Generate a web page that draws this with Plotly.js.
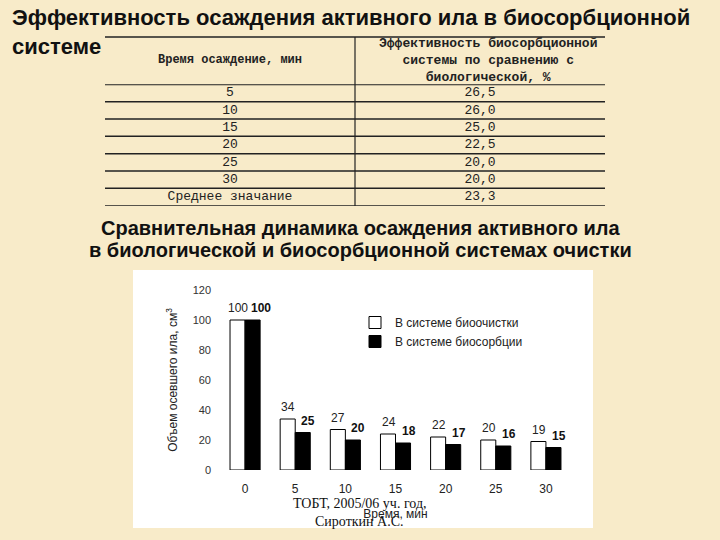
<!DOCTYPE html>
<html>
<head>
<meta charset="utf-8">
<script src="https://cdn.plot.ly/plotly-3.0.1.min.js"></script>
<style>
  html, body { margin: 0; padding: 0; background: #f8ebc9; }
  #chart { width: 720px; height: 540px; }
</style>
</head>
<body>
<div id="chart"></div>
<script>
// ---- data ----
const categories = ['0', '5', '10', '15', '20', '25', '30'];
const bioValues = [100, 34, 27, 24, 22, 20, 19];
const biosorbValues = [100, 25, 20, 18, 17, 16, 15];
const yTicks = [0, 20, 40, 60, 80, 100, 120];
const tableTimes = ['5', '10', '15', '20', '25', '30', 'Среднее значание'];
const tableEff = ['26,5', '26,0', '25,0', '22,5', '20,0', '20,0', '23,3'];
const tableColumns = ['time', 'eff'];

// ---- helpers (pixel -> paper) ----
const W = 720, H = 540;
const px = v => v / W;
const py = v => 1 - v / H;

const sans = 'Liberation Sans, Arial, sans-serif';
const serif = 'Liberation Serif, Times New Roman, serif';
const mono = 'Liberation Mono, monospace';

const traces = [
  {
    type: 'bar', name: 'В системе биоочистки',
    x: categories, y: bioValues,
    marker: { color: '#ffffff', line: { color: '#000000', width: 1 } },
    xaxis: 'x', yaxis: 'y', hoverinfo: 'skip'
  },
  {
    type: 'bar', name: 'В системе биосорбции',
    x: categories, y: biosorbValues,
    marker: { color: '#000000', line: { color: '#000000', width: 1 } },
    xaxis: 'x', yaxis: 'y', hoverinfo: 'skip'
  },
  {
    type: 'scatter', mode: 'text', showlegend: false,
    x: tableTimes.map(() => tableColumns[0]), y: tableTimes, text: tableTimes,
    textfont: { family: mono, size: 13, color: '#222' },
    xaxis: 'x2', yaxis: 'y2', hoverinfo: 'skip'
  },
  {
    type: 'scatter', mode: 'text', showlegend: false,
    x: tableTimes.map(() => tableColumns[1]), y: tableTimes, text: tableEff,
    textfont: { family: mono, size: 13, color: '#222' },
    xaxis: 'x2', yaxis: 'y2', hoverinfo: 'skip'
  }
];

const annotations = [];
// value labels from data (x given as category index)
categories.forEach((c, i) => {
  annotations.push({
    x: i, y: bioValues[i], xref: 'x', yref: 'y',
    text: String(bioValues[i]), showarrow: false,
    xanchor: 'center', yanchor: 'middle', xshift: -7, yshift: 12,
    font: { family: sans, size: 12, color: '#222' }
  });
  annotations.push({
    x: i, y: biosorbValues[i], xref: 'x', yref: 'y',
    text: '<b>' + biosorbValues[i] + '</b>', showarrow: false,
    xanchor: 'left', yanchor: 'middle', xshift: 4, yshift: 12,
    font: { family: sans, size: 12, color: '#111' }
  });
});

// slide texts
annotations.push({
  xref: 'paper', yref: 'paper', x: px(360), y: py(228),
  text: '<b>Сравнительная динамика осаждения активного ила</b>',
  showarrow: false, xanchor: 'center', yanchor: 'middle',
  font: { family: sans, size: 20, color: '#111' }
});
annotations.push({
  xref: 'paper', yref: 'paper', x: px(360), y: py(250),
  text: '<b>в биологической и биосорбционной системах очистки</b>',
  showarrow: false, xanchor: 'center', yanchor: 'middle',
  font: { family: sans, size: 20, color: '#111' }
});
annotations.push({
  xref: 'paper', yref: 'paper', x: px(360), y: py(503),
  text: 'ТОБТ, 2005/06 уч. год,', showarrow: false,
  xanchor: 'center', yanchor: 'middle',
  font: { family: serif, size: 14, color: '#111' }
});
annotations.push({
  xref: 'paper', yref: 'paper', x: px(359), y: py(521),
  text: 'Сироткин А.С.', showarrow: false,
  xanchor: 'center', yanchor: 'middle',
  font: { family: serif, size: 14, color: '#111' }
});
// table header
annotations.push({
  xref: 'paper', yref: 'paper', x: px(230), y: py(60),
  text: '<b>Время осаждение, мин</b>', showarrow: false,
  xanchor: 'center', yanchor: 'middle',
  font: { family: mono, size: 12, color: '#222' }
});
annotations.push({
  xref: 'paper', yref: 'paper', x: px(488), y: py(61),
  text: '<b>Эффективность биосорбционной<br>системы по сравнению с<br>биологической, %</b>',
  showarrow: false, xanchor: 'center', yanchor: 'middle', align: 'center',
  font: { family: mono, size: 13, color: '#222' }
});

const shapes = [
  // white chart panel
  { type: 'rect', xref: 'paper', yref: 'paper', layer: 'below',
    x0: px(133), x1: px(593), y0: py(528), y1: py(270),
    fillcolor: '#ffffff', line: { width: 0 } },
  // table top line
  { type: 'line', xref: 'paper', yref: 'paper', x0: px(105), x1: px(605), y0: py(37), y1: py(37),
    line: { color: '#222', width: 1.5 } },
  // vertical divider
  { type: 'line', xref: 'paper', yref: 'paper', x0: px(355), x1: px(355), y0: py(37), y1: py(206),
    line: { color: '#222', width: 1.2 } }
];
// horizontal row lines on the table axis
for (let k = 0; k <= tableTimes.length; k++) {
  shapes.push({
    type: 'line', xref: 'paper', yref: 'y2', x0: px(105), x1: px(605), y0: k - 0.5, y1: k - 0.5,
    line: { color: '#222', width: k === 0 ? 2 : 1.5 }
  });
}

const layout = {
  width: W, height: H,
  margin: { l: 0, r: 0, t: 0, b: 0, pad: 0 },
  paper_bgcolor: '#f8ebc9', plot_bgcolor: 'rgba(0,0,0,0)',
  font: { family: sans, color: '#222' },
  title: {
    text: '<b>Эффективность осаждения активного ила в биосорбционной<br>системе</b>',
    x: px(12), xref: 'paper', xanchor: 'left',
    y: 1 - 25 / H, yref: 'container', yanchor: 'middle',
    font: { family: sans, size: 22, color: '#111' }
  },
  barmode: 'group', bargap: 0.4, bargroupgap: 0,
  showlegend: true,
  legend: {
    x: px(355), y: py(308), xanchor: 'left', yanchor: 'top',
    bgcolor: 'rgba(0,0,0,0)', borderwidth: 0,
    font: { family: sans, size: 12, color: '#222' },
    itemwidth: 30, tracegroupgap: 0
  },
  xaxis: {
    domain: [px(220), px(571)], anchor: 'y',
    type: 'category', categoryorder: 'array', categoryarray: categories,
    range: [-0.5, categories.length - 0.5], autorange: false,
    showline: false, showgrid: false, zeroline: false, ticks: '',
    ticklabelstandoff: 10,
    tickfont: { family: sans, size: 12, color: '#222' },
    title: { text: 'Время, мин', font: { family: sans, size: 12, color: '#222' }, standoff: 14 },
    automargin: false, fixedrange: true
  },
  yaxis: {
    domain: [py(470), py(290)], anchor: 'x',
    range: [0, 120], autorange: false, tickvals: yTicks,
    showline: false, showgrid: false, zeroline: false, ticks: '',
    ticklabelstandoff: 8,
    tickfont: { family: sans, size: 11, color: '#333' },
    title: { text: 'Объем осевшего ила, см<sup>3</sup>', font: { family: sans, size: 12, color: '#222' }, standoff: 12 },
    automargin: false, fixedrange: true
  },
  xaxis2: {
    domain: [px(105), px(605)], anchor: 'y2',
    type: 'category', categoryorder: 'array', categoryarray: tableColumns,
    range: [-0.5, 1.5], autorange: false, visible: false, fixedrange: true
  },
  yaxis2: {
    domain: [py(205.7), py(84.3)], anchor: 'x2',
    type: 'category', categoryorder: 'array', categoryarray: tableTimes,
    range: [tableTimes.length - 0.5, -0.5], autorange: false, visible: false, fixedrange: true
  },
  annotations: annotations,
  shapes: shapes
};

Plotly.newPlot('chart', traces, layout, { displayModeBar: false, staticPlot: true });
</script>
</body>
</html>
